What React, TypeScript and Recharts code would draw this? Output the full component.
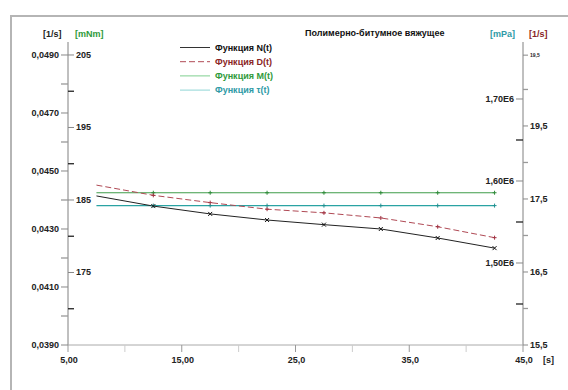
import { LineChart, Line, XAxis, YAxis, Legend } from 'recharts';

// time points [s]
const time = [7.5, 12.5, 17.5, 22.5, 27.5, 32.5, 37.5, 42.5];
// Функция N(t) [1/s], left axis
const nValues = [0.04414, 0.04379, 0.04352, 0.04331, 0.04315, 0.043, 0.04269, 0.04234];
// Функция D(t) [1/s], right axis
const dValues = [17.69, 17.55, 17.45, 17.36, 17.31, 17.24, 17.12, 16.97];
// Функция M(t) [mNm]
const mValues = [186, 186, 186, 186, 186, 186, 186, 186];
// Функция τ(t) [mPa]
const tauValues = [1.57e6, 1.57e6, 1.57e6, 1.57e6, 1.57e6, 1.57e6, 1.57e6, 1.57e6];

const xTicks = [5, 10, 15, 20, 25, 30, 35, 40, 45];
const xTickLabels = ['5,00', '', '15,00', '', '25,0', '', '35,0', '', '45,0'];
const nTicks = [0.039, 0.04, 0.041, 0.042, 0.043, 0.044, 0.045, 0.046, 0.047, 0.048, 0.049];
const nTickLabels = ['0,0390', '', '0,0410', '', '0,0430', '', '0,0450', '', '0,0470', '', '0,0490'];
const mTicks = [170, 175, 180, 185, 190, 195, 200, 205];
const mTickLabels = ['', '175', '', '185', '', '195', '', '205'];
const tauTicks = [1.45e6, 1.5e6, 1.55e6, 1.6e6, 1.65e6, 1.7e6];
const tauTickLabels = ['', '1,50E6', '', '1,60E6', '', '1,70E6'];
const dTicks = [15.5, 16, 16.5, 17, 17.5, 18, 18.5, 19, 19.47];
const dTickLabels = ['15,5', '', '16,5', '', '17,5', '', '19,5', '', '19,5'];

const data = time.map((t, i) => ({
  t,
  n: nValues[i],
  d: dValues[i],
  m: mValues[i],
  tau: tauValues[i],
}));

const FONT = '"Liberation Sans", Arial, sans-serif';
const AXIS = '#aaaaaa';

const legendItems = [
  { name: 'Функция N(t)', line: '#333333', text: '#111111', dash: undefined },
  { name: 'Функция D(t)', line: '#b04a55', text: '#8a2525', dash: '6 3' },
  { name: 'Функция M(t)', line: '#7fcf8f', text: '#2f9a3a', dash: undefined },
  { name: 'Функция τ(t)', line: '#8fd6d6', text: '#2e9aa6', dash: undefined },
];

function makeYTick(ticks: number[], labels: string[], side: 'left' | 'right', len: number, minorColor: string) {
  return (props: any) => {
    const { x, y, payload } = props;
    const i = ticks.indexOf(payload.value);
    const label = i >= 0 ? labels[i] : '';
    const dir = side === 'left' ? -1 : 1;
    const small = side === 'right' && i === ticks.length - 1 && ticks === dTicks;
    return (
      <g>
        <line
          x1={x}
          x2={x + dir * len}
          y1={y}
          y2={y}
          stroke={label ? '#888' : minorColor}
          strokeWidth={label ? 1 : 1.3}
        />
        {label && (
          <text
            x={x + dir * (len + 2)}
            y={y}
            textAnchor={side === 'left' ? 'end' : 'start'}
            dominantBaseline="central"
            fontFamily={FONT}
            fontWeight="bold"
            fontSize={small ? 5 : 9}
            fill="#222"
          >
            {label}
          </text>
        )}
      </g>
    );
  };
}

const XTick = (props: any) => {
  const { x, y, payload } = props;
  const i = xTicks.indexOf(payload.value);
  const label = i >= 0 ? xTickLabels[i] : '';
  return (
    <g>
      <line x1={x} x2={x} y1={y} y2={y + 7} stroke={label ? '#999' : '#ccc'} />
      {label && (
        <text x={x + 1} y={y + 15} textAnchor="middle" dominantBaseline="central" fontFamily={FONT} fontWeight="bold" fontSize={9} fill="#222">
          {label}
        </text>
      )}
    </g>
  );
};

function makeDot(color: string, shape: 'x' | '+') {
  return (props: any) => {
    const { cx, cy, index } = props;
    if (index === 0 || cx == null) return <g key={`d${index}`} />;
    const s = 2;
    return shape === 'x' ? (
      <g key={`d${index}`} stroke={color} strokeWidth={1}>
        <line x1={cx - s} y1={cy - s} x2={cx + s} y2={cy + s} />
        <line x1={cx - s} y1={cy + s} x2={cx + s} y2={cy - s} />
      </g>
    ) : (
      <g key={`d${index}`} stroke={color} strokeWidth={1}>
        <line x1={cx - s} y1={cy} x2={cx + s} y2={cy} />
        <line x1={cx} y1={cy - s} x2={cx} y2={cy + s} />
      </g>
    );
  };
}

const LegendBox = () => (
  <svg width={130} height={60}>
    {legendItems.map((it, i) => {
      const y = 7.5 + 14.2 * i;
      return (
        <g key={it.name}>
          <line x1={2} x2={32} y1={y} y2={y} stroke={it.line} strokeWidth={1} strokeDasharray={it.dash} />
          <text x={37} y={y} dominantBaseline="central" fontFamily={FONT} fontWeight="bold" fontSize={9} fill={it.text}>
            {it.name}
          </text>
        </g>
      );
    })}
  </svg>
);

export default function App() {
  return (
    <div style={{ position: 'absolute', left: 0, top: 0, width: 568, height: 390, overflow: 'hidden', background: '#fff' }}>
      <div
        style={{
          position: 'absolute',
          left: 10,
          top: 15,
          width: 620,
          height: 420,
          borderLeft: '2px solid #b5b5b5',
          borderTop: '2px solid #b5b5b5',
        }}
      />
      <div style={{ position: 'absolute', left: 0, top: 0 }}>
        <LineChart width={568} height={390} data={data} margin={{ top: 42, right: 5, bottom: 15, left: 18 }}>
          <XAxis
            dataKey="t"
            type="number"
            domain={[5, 45]}
            ticks={xTicks}
            interval={0}
            height={30}
            tickSize={0}
            tickMargin={0}
            tickLine={false}
            axisLine={{ stroke: AXIS }}
            tick={XTick}
            allowDataOverflow
          />
          <YAxis
            yAxisId="n"
            orientation="left"
            width={50}
            domain={[0.039, 0.049448]}
            ticks={nTicks}
            interval={0}
            tickSize={0}
            tickMargin={0}
            tickLine={false}
            axisLine={{ stroke: AXIS }}
            tick={makeYTick(nTicks, nTickLabels, 'left', 7, '#999')}
            allowDataOverflow
          />
          <YAxis
            yAxisId="m"
            orientation="left"
            mirror
            domain={[165, 206.79]}
            ticks={mTicks}
            interval={0}
            tickSize={0}
            tickMargin={0}
            tickLine={false}
            axisLine={{ stroke: AXIS }}
            tick={makeYTick(mTicks, mTickLabels, 'right', 6, '#222')}
            allowDataOverflow
          />
          <YAxis
            yAxisId="tau"
            orientation="right"
            mirror
            domain={[1.4e6, 1.7695e6]}
            ticks={tauTicks}
            interval={0}
            tickSize={0}
            tickMargin={0}
            tickLine={false}
            axisLine={{ stroke: AXIS }}
            tick={makeYTick(tauTicks, tauTickLabels, 'left', 7, '#222')}
            allowDataOverflow
          />
          <YAxis
            yAxisId="d"
            orientation="right"
            width={40}
            domain={[15.5, 19.65]}
            ticks={dTicks}
            interval={0}
            tickSize={0}
            tickMargin={0}
            tickLine={false}
            axisLine={{ stroke: AXIS }}
            tick={makeYTick(dTicks, dTickLabels, 'right', 5, '#999')}
            allowDataOverflow
          />
          <Legend
            layout="vertical"
            align="center"
            verticalAlign="middle"
            wrapperStyle={{ left: 178, top: 40, width: 130, height: 60 }}
            content={LegendBox}
          />
          <Line yAxisId="m" dataKey="m" stroke="#3f9d4a" strokeWidth={1.2} dot={makeDot('#2f8a3a', '+')} isAnimationActive={false} />
          <Line yAxisId="tau" dataKey="tau" stroke="#2aa3a3" strokeWidth={1.2} dot={makeDot('#1f9090', '+')} isAnimationActive={false} />
          <Line yAxisId="d" dataKey="d" stroke="#b04a55" strokeWidth={1} strokeDasharray="6 3" dot={makeDot('#a03040', '+')} isAnimationActive={false} />
          <Line yAxisId="n" dataKey="n" stroke="#222" strokeWidth={1} dot={makeDot('#111', 'x')} isAnimationActive={false} />
        </LineChart>
      </div>
      <svg width={568} height={390} style={{ position: 'absolute', left: 0, top: 0, pointerEvents: 'none' }}>
        <g fontFamily={FONT} fontWeight="bold" fontSize={9} dominantBaseline="central">
          <text x={43} y={34} fill="#222">[1/s]</text>
          <text x={75} y={34} fill="#2f9a3a">[mNm]</text>
          <text x={305} y={33} fill="#111">Полимерно-битумное вяжущее</text>
          <text x={490} y={34} fill="#2e9aa6">[mPa]</text>
          <text x={529} y={34} fill="#8a2525">[1/s]</text>
          <text x={543} y={360} fill="#222">[s]</text>
        </g>
      </svg>
    </div>
  );
}
